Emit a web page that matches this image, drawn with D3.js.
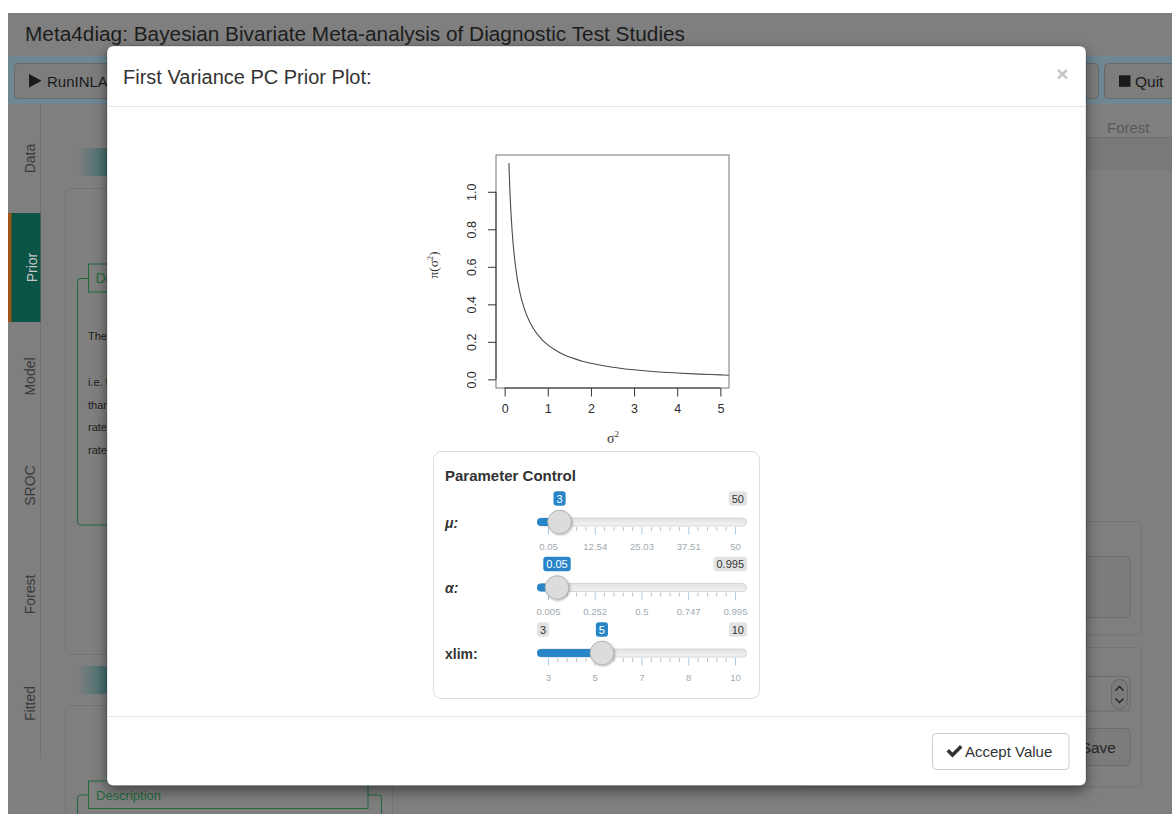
<!DOCTYPE html>
<html>
<head>
<meta charset="utf-8">
<title>First Variance PC Prior Plot</title>
<script src="https://cdn.jsdelivr.net/npm/d3@7/dist/d3.min.js"></script>
<style>
  html, body { margin: 0; padding: 0; background: #ffffff; overflow: hidden; }
  svg { display: block; font-family: "Liberation Sans", Arial, Helvetica, sans-serif; }
</style>
</head>
<body>
<svg id="app" width="1172" height="814"></svg>
<script>
// PC prior density of the first variance component, along sigma^2
const sigma2  = [0.10, 0.11, 0.12, 0.13, 0.14, 0.15, 0.17, 0.20, 0.25, 0.30, 0.35, 0.40, 0.50, 0.60, 0.70, 0.80, 0.90, 1.00, 1.20, 1.40, 1.60, 1.80, 2.00, 2.50, 3.00, 3.50, 4.00, 4.50, 5.00, 5.20];
const density = [1.153, 1.082, 1.021, 0.967, 0.919, 0.876, 0.803, 0.715, 0.607, 0.528, 0.468, 0.420, 0.349, 0.298, 0.259, 0.229, 0.204, 0.184, 0.153, 0.129, 0.112, 0.097, 0.086, 0.065, 0.051, 0.041, 0.034, 0.028, 0.024, 0.022];
const xTickValues = [0, 1, 2, 3, 4, 5];
const yTickValues = [0.0, 0.2, 0.4, 0.6, 0.8, 1.0];
const xDataRange = [0, 5];
const yDataRange = [0, 1.15];

// parameter sliders
const muRange = [0.05, 50];
const muValue = 3;
const muGrid = [0.05, 12.54, 25.03, 37.51, 50];
const alphaRange = [0.005, 0.995];
const alphaValue = 0.05;
const alphaGrid = [0.005, 0.252, 0.5, 0.747, 0.995];
const xlimRange = [3, 10];
const xlimValue = 5;
const xlimGrid = [3, 4.75, 6.5, 8.25, 10];
const xlimGridLabels = ["3", "5", "7", "8", "10"];

// application chrome behind the dialog
const sideTabs = ["Data", "Prior", "Model", "SROC", "Forest", "Fitted"];
const activeTab = "Prior";
const fieldsetLines = ["The PC prior", "i.e. the", "than", "rate", "rate"];

const BLUE = "#2886c8";
const GREEN = "#1f6a3c";

const svg = d3.select("#app");
const defs = svg.append("defs");

const teal = defs.append("linearGradient").attr("id", "teal").attr("x1", 0).attr("x2", 1).attr("y1", 0).attr("y2", 0);
teal.append("stop").attr("offset", "0%").attr("stop-color", "#7f7f7f");
teal.append("stop").attr("offset", "100%").attr("stop-color", "#3b6d6c");

const trackGrad = defs.append("linearGradient").attr("id", "trackGrad").attr("x1", 0).attr("x2", 0).attr("y1", 0).attr("y2", 1);
trackGrad.append("stop").attr("offset", "0%").attr("stop-color", "#e2e2e2");
trackGrad.append("stop").attr("offset", "100%").attr("stop-color", "#f2f2f2");

const modalShadow = defs.append("filter").attr("id", "modalShadow")
  .attr("x", "-5%").attr("y", "-5%").attr("width", "110%").attr("height", "112%");
modalShadow.append("feDropShadow").attr("dx", 0).attr("dy", 5).attr("stdDeviation", 7)
  .attr("flood-color", "#000").attr("flood-opacity", 0.5);

const knobShadow = defs.append("filter").attr("id", "knobShadow")
  .attr("x", "-30%").attr("y", "-30%").attr("width", "170%").attr("height", "170%");
knobShadow.append("feDropShadow").attr("dx", 1).attr("dy", 1).attr("stdDeviation", 1.2)
  .attr("flood-color", "#000").attr("flood-opacity", 0.3);

// ---------- dimmed page ----------
const page = svg.append("g");
page.append("rect").attr("x", 8).attr("y", 13).attr("width", 1164).attr("height", 801).attr("fill", "#7f7f7f");

page.append("text").attr("x", 25).attr("y", 40.5).attr("font-size", 20.5).attr("fill", "#1c1c1c")
  .attr("textLength", 660).attr("lengthAdjust", "spacingAndGlyphs")
  .text("Meta4diag: Bayesian Bivariate Meta-analysis of Diagnostic Test Studies");

// toolbar
page.append("rect").attr("x", 8).attr("y", 56).attr("width", 1164).attr("height", 48).attr("fill", "#6e8792");
const btn = (x, w) => page.append("rect").attr("x", x).attr("y", 63.5).attr("width", w).attr("height", 35)
  .attr("rx", 4).attr("fill", "#7d7d7d").attr("stroke", "#686868");
btn(14.5, 140);
btn(1000.5, 98);
btn(1104.5, 80);
page.append("path").attr("d", "M29,74 L41.5,80.7 L29,87.4 Z").attr("fill", "#1a1a1a");
page.append("text").attr("x", 47).attr("y", 86.5).attr("font-size", 15).attr("fill", "#1a1a1a").text("RunINLA");
page.append("rect").attr("x", 1119).attr("y", 75.3).attr("width", 11.5).attr("height", 11.5).attr("fill", "#1a1a1a");
page.append("text").attr("x", 1135).attr("y", 86.5).attr("font-size", 15.5).attr("fill", "#1a1a1a").text("Quit");

// side navigation
page.append("line").attr("x1", 40.5).attr("x2", 40.5).attr("y1", 104).attr("y2", 758).attr("stroke", "#727272");
sideTabs.forEach((name, i) => {
  const top = 104 + i * 109;
  const active = name === activeTab;
  if (active) {
    page.append("rect").attr("x", 8).attr("y", top).attr("width", 32.5).attr("height", 109).attr("fill", "#0c5446");
    page.append("rect").attr("x", 8).attr("y", top).attr("width", 3.5).attr("height", 109).attr("fill", "#9a5518");
  }
  page.append("text")
    .attr("transform", `translate(${active ? 31.5 : 29.5},${top + 54.5}) rotate(-90)`)
    .attr("text-anchor", "middle").attr("dy", "0.36em")
    .attr("font-size", 14).attr("fill", active ? "#c6c6c6" : "#3a3a3a").text(name);
});

// main column panels
page.append("rect").attr("x", 77).attr("y", 148).attr("width", 34).attr("height", 28).attr("fill", "url(#teal)");
page.append("rect").attr("x", 65.5).attr("y", 188.5).attr("width", 327).attr("height", 466).attr("rx", 4)
  .attr("fill", "none").attr("stroke", "#747474");
page.append("path").attr("d", "M88,278.5 H80.5 Q77.5,278.5 77.5,281.5 V522 Q77.5,525 80.5,525 H110")
  .attr("fill", "none").attr("stroke", GREEN);
page.append("rect").attr("x", 88.5).attr("y", 264).attr("width", 110).attr("height", 28)
  .attr("fill", "none").attr("stroke", GREEN);
page.append("text").attr("x", 95.5).attr("y", 282.5).attr("font-size", 14).attr("fill", GREEN).text("Description");
fieldsetLines.forEach((t, i) => {
  const yy = [336, 382, 404.5, 427, 450][i];
  page.append("text").attr("x", 88).attr("y", yy + 4).attr("font-size", 11).attr("fill", "#1c1c1c").text(t);
});
page.append("rect").attr("x", 77).attr("y", 666).attr("width", 34).attr("height", 28).attr("fill", "url(#teal)");
page.append("rect").attr("x", 65.5).attr("y", 705.5).attr("width", 327).attr("height", 200).attr("rx", 4)
  .attr("fill", "none").attr("stroke", "#747474");
page.append("path").attr("d", "M77.5,814 V798 Q77.5,795 80.5,795 H88.5 M368,795 H378.5 Q381.5,795 381.5,798 V814")
  .attr("fill", "none").attr("stroke", GREEN);
page.append("rect").attr("x", 88.5).attr("y", 781).attr("width", 279.5).attr("height", 27.5)
  .attr("fill", "none").attr("stroke", GREEN);
page.append("text").attr("x", 96).attr("y", 799.5).attr("font-size", 13).attr("fill", GREEN).text("Description");

// right column
page.append("text").attr("x", 1107).attr("y", 133).attr("font-size", 15).attr("fill", "#585858").text("Forest");
page.append("rect").attr("x", 420).attr("y", 137.5).attr("width", 752).attr("height", 32.5).attr("fill", "#797979");
page.append("line").attr("x1", 420).attr("x2", 1172).attr("y1", 137.5).attr("y2", 137.5).attr("stroke", "#6f6f6f");
page.append("rect").attr("x", 800.5).attr("y", 521.5).attr("width", 341).attr("height", 113.5).attr("rx", 4)
  .attr("fill", "none").attr("stroke", "#747474");
page.append("rect").attr("x", 800.5).attr("y", 556.5).attr("width", 329.5).attr("height", 61).attr("rx", 4)
  .attr("fill", "#7c7c7c").attr("stroke", "#6b6b6b");
page.append("rect").attr("x", 800.5).attr("y", 647.5).attr("width", 341).attr("height", 139.5).attr("rx", 4)
  .attr("fill", "none").attr("stroke", "#747474");
page.append("rect").attr("x", 800.5).attr("y", 676.5).attr("width", 329.5).attr("height", 34.5).attr("rx", 4)
  .attr("fill", "none").attr("stroke", "#6b6b6b");
page.append("rect").attr("x", 1111.5).attr("y", 679.5).attr("width", 16).attr("height", 30).attr("rx", 8)
  .attr("fill", "#7b7b7b").attr("stroke", "#666");
page.append("path").attr("d", "M1115.5,690.5 L1119.5,686.5 L1123.5,690.5 M1115.5,698.5 L1119.5,702.5 L1123.5,698.5")
  .attr("fill", "none").attr("stroke", "#222").attr("stroke-width", 1.4);
page.append("rect").attr("x", 800.5).attr("y", 728.5).attr("width", 329.5).attr("height", 37).attr("rx", 4)
  .attr("fill", "#7c7c7c").attr("stroke", "#6b6b6b");
page.append("text").attr("x", 1116).attr("y", 752.5).attr("font-size", 15.5).attr("text-anchor", "end")
  .attr("fill", "#262626").text("Save");

// ---------- dialog ----------
const modal = svg.append("g");
modal.append("rect").attr("x", 107).attr("y", 46).attr("width", 979).attr("height", 739.5).attr("rx", 6)
  .attr("fill", "#fff").attr("stroke", "rgba(0,0,0,0.2)").attr("filter", "url(#modalShadow)");
modal.append("line").attr("x1", 107).attr("x2", 1086).attr("y1", 106.5).attr("y2", 106.5).attr("stroke", "#e5e5e5");
modal.append("line").attr("x1", 107).attr("x2", 1086).attr("y1", 716.5).attr("y2", 716.5).attr("stroke", "#e5e5e5");
modal.append("text").attr("x", 123).attr("y", 84).attr("font-size", 20).attr("fill", "#333")
  .text("First Variance PC Prior Plot:");
modal.append("text").attr("x", 1062.5).attr("y", 81).attr("font-size", 21).attr("font-weight", "bold")
  .attr("text-anchor", "middle").attr("fill", "#c4c4c4").text("×");

// footer button
modal.append("rect").attr("x", 932.5).attr("y", 733.5).attr("width", 136.5).attr("height", 36).attr("rx", 4)
  .attr("fill", "#fff").attr("stroke", "#cccccc");
modal.append("path").attr("d", "M946.5,751.5 L949,749 L952.5,752.5 L960,745 L962.5,747.5 L952.5,757.5 Z").attr("fill", "#333");
modal.append("text").attr("x", 965).attr("y", 757).attr("font-size", 15).attr("fill", "#333").text("Accept Value");

// ---------- density plot ----------
const plotL = 496, plotR = 729, plotT = 155, plotB = 388;
const pad = r => { const d = (r[1] - r[0]) * 0.04; return [r[0] - d, r[1] + d]; };
const x = d3.scaleLinear().domain(pad(xDataRange)).range([plotL, plotR]);
const y = d3.scaleLinear().domain(pad(yDataRange)).range([plotB, plotT]);
const plot = modal.append("g");

defs.append("clipPath").attr("id", "plotClip").append("rect")
  .attr("x", plotL).attr("y", plotT).attr("width", plotR - plotL).attr("height", plotB - plotT);

const pts = sigma2.map((v, i) => [v, density[i]]);
plot.append("path").datum(pts).attr("clip-path", "url(#plotClip)")
  .attr("d", d3.line().x(d => x(d[0])).y(d => y(d[1])).curve(d3.curveMonotoneX))
  .attr("fill", "none").attr("stroke", "#4a4a4a").attr("stroke-width", 1.1);

plot.append("rect").attr("x", plotL).attr("y", plotT).attr("width", plotR - plotL).attr("height", plotB - plotT)
  .attr("fill", "none").attr("stroke", "#777").attr("stroke-width", 1);

const xAxis = plot.append("g").attr("transform", `translate(0,${plotB})`)
  .call(d3.axisBottom(x).tickValues(xTickValues).tickFormat(d3.format("d")).tickSizeInner(8.5).tickSizeOuter(0).tickPadding(8));
xAxis.select(".domain").remove();
xAxis.attr("font-size", 12.5).attr("font-family", "Liberation Sans, Arial, sans-serif");
xAxis.selectAll(".tick line").attr("stroke", "#333");
xAxis.selectAll(".tick text").attr("fill", "#2e2e2e");
plot.append("line").attr("x1", x(xTickValues[0])).attr("x2", x(xTickValues[xTickValues.length - 1]))
  .attr("y1", plotB).attr("y2", plotB).attr("stroke", "#333");

const yAxis = plot.append("g").attr("transform", `translate(${plotL},0)`)
  .call(d3.axisLeft(y).tickValues(yTickValues).tickFormat(d3.format(".1f")).tickSizeInner(8).tickSizeOuter(0));
yAxis.select(".domain").remove();
yAxis.attr("font-size", 12.5).attr("font-family", "Liberation Sans, Arial, sans-serif");
yAxis.selectAll(".tick line").attr("stroke", "#333");
yAxis.selectAll(".tick text").attr("x", null).attr("fill", "#2e2e2e")
  .attr("text-anchor", "middle").attr("dy", "0.36em")
  .attr("transform", "translate(-24.3,0) rotate(-90)");
plot.append("line").attr("x1", plotL).attr("x2", plotL)
  .attr("y1", y(yTickValues[0])).attr("y2", y(yTickValues[yTickValues.length - 1])).attr("stroke", "#333");

// axis titles
const xt = plot.append("text").attr("x", 613).attr("y", 443).attr("text-anchor", "middle")
  .attr("font-family", "Liberation Serif, Times New Roman, serif").attr("font-size", 14).attr("fill", "#333");
xt.append("tspan").text("σ");
xt.append("tspan").attr("font-size", 9).attr("dy", -6).text("2");
const yt = plot.append("text").attr("transform", "translate(438,265) rotate(-90)").attr("text-anchor", "middle")
  .attr("font-family", "Liberation Serif, Times New Roman, serif").attr("font-size", 13.5).attr("fill", "#333");
yt.append("tspan").text("π(σ");
yt.append("tspan").attr("font-size", 8).attr("dy", -5).text("2");
yt.append("tspan").attr("dy", 5).text(")");

// ---------- parameter control ----------
const panel = modal.append("g");
panel.append("rect").attr("x", 433.5).attr("y", 451.5).attr("width", 326).attr("height", 247).attr("rx", 8)
  .attr("fill", "#fff").attr("stroke", "#dcdcdc");
panel.append("text").attr("x", 445).attr("y", 480.5).attr("font-size", 15).attr("font-weight", "bold")
  .attr("fill", "#333").text("Parameter Control");

const sliders = [
  { label: "μ:", italic: true, range: muRange, value: muValue, grid: muGrid, gridLabels: muGrid.map(String) },
  { label: "α:", italic: true, range: alphaRange, value: alphaValue, grid: alphaGrid, gridLabels: alphaGrid.map(String) },
  { label: "xlim:", italic: false, range: xlimRange, value: xlimValue, grid: xlimGrid, gridLabels: xlimGridLabels }
];

function bubble(g, text, cfg) {
  const grp = g.append("g");
  const r = grp.append("rect");
  const t = grp.append("text").attr("font-size", 11).attr("fill", cfg.color).attr("text-anchor", "middle").text(text);
  const w = t.node().getComputedTextLength() + 6, h = 14.5;
  const cx = cfg.anchor === "left" ? cfg.x + w / 2 : cfg.anchor === "right" ? cfg.x - w / 2 : cfg.x;
  t.attr("x", cx).attr("y", cfg.cy + 4);
  r.attr("x", cx - w / 2).attr("y", cfg.cy - h / 2).attr("width", w).attr("height", h).attr("rx", 3).attr("fill", cfg.fill);
  return { left: cx - w / 2, right: cx + w / 2, grp };
}

const trackL = 537, trackR = 747, gridL = 548.5, gridR = 735.5;
sliders.forEach((s, i) => {
  const cy = 522 + i * 65.5;
  const sx = d3.scaleLinear().domain(s.range).range([gridL, gridR]);
  const g = panel.append("g");

  g.append("text").attr("x", 445).attr("y", cy + 5.5).attr("font-size", 14).attr("font-weight", "bold")
    .attr("font-style", s.italic ? "italic" : "normal").attr("fill", "#333").text(s.label);

  // grid marks under the track
  const majors = s.grid.map(v => sx(v));
  majors.forEach((px, k) => {
    g.append("line").attr("x1", px).attr("x2", px).attr("y1", cy + 5).attr("y2", cy + 12.5)
      .attr("stroke", "#a9cbe6").attr("stroke-width", 1);
    if (k < majors.length - 1) {
      const step = (majors[k + 1] - px) / 5;
      for (let m = 1; m < 5; m++) {
        g.append("line").attr("x1", px + m * step).attr("x2", px + m * step).attr("y1", cy + 5).attr("y2", cy + 9)
          .attr("stroke", "#c4c4c4").attr("stroke-width", 1);
      }
    }
    g.append("text").attr("x", px).attr("y", cy + 27.5).attr("text-anchor", "middle")
      .attr("font-size", 9.6).attr("fill", "#a2abb2").text(s.gridLabels[k]);
  });

  // track, filled bar and knob
  g.append("rect").attr("x", trackL + 0.5).attr("y", cy - 4).attr("width", trackR - trackL - 1).attr("height", 8)
    .attr("rx", 4).attr("fill", "url(#trackGrad)").attr("stroke", "#d6d6d6");
  g.append("rect").attr("x", trackL).attr("y", cy - 4).attr("width", sx(s.value) - trackL).attr("height", 8)
    .attr("rx", 4).attr("fill", BLUE);
  g.append("circle").attr("cx", sx(s.value)).attr("cy", cy).attr("r", 11.8)
    .attr("fill", "#dcdcdc").attr("stroke", "#b3b3b3").attr("filter", "url(#knobShadow)");

  // value labels above the track
  const by = cy - 23.5;
  const single = bubble(g, String(s.value), { x: sx(s.value), cy: by, anchor: "middle", fill: BLUE, color: "#fff" });
  const minB = bubble(g, String(s.range[0]), { x: trackL, cy: by, anchor: "left", fill: "#e3e3e3", color: "#333" });
  if (minB.right > single.left - 2) minB.grp.remove();
  const maxB = bubble(g, String(s.range[1]), { x: trackR, cy: by, anchor: "right", fill: "#e3e3e3", color: "#333" });
  if (maxB.left < single.right + 2) maxB.grp.remove();
  single.grp.raise();
});
</script>
</body>
</html>
